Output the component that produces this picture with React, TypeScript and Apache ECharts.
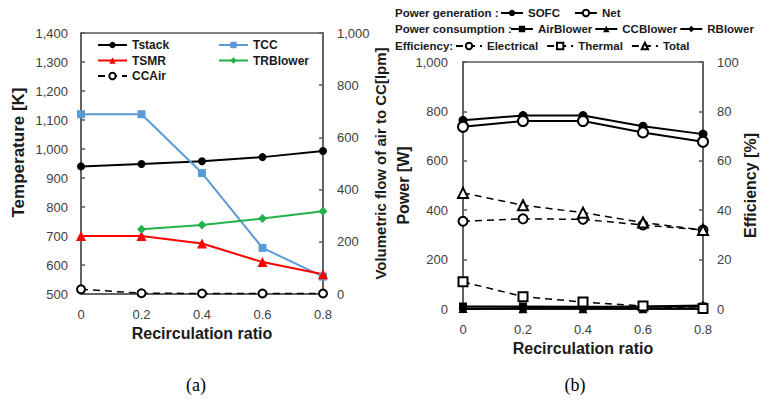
import React, { useEffect, useRef } from "react";
import * as echarts from "echarts";

const ratios = ["0", "0.2", "0.4", "0.6", "0.8"];

// (a) temperatures [K] and CC air flow [lpm]
const tStack = [940, 948, 958, 972, 993];
const tCC = [1120, 1120, 917, 659, 560];
const tSMR = [700, 700, 674, 610, 568];
const tRBlower = [null, 723, 738, 760, 785];
const ccAir = [18, 3, 2, 2, 2];

// (b) power [W] and efficiency [%]
const sofc = [764, 783, 783, 740, 708];
const net = [738, 761, 761, 715, 677];
const airBlower = [10, 10, 9, 9, 10];
const ccBlower = [2, 1, 1, 1, 1];
const rBlower = [0, 4, 7, 10, 14];
const elecEff = [35.5, 36.5, 36.3, 34, 32];
const thermEff = [11, 5, 2.8, 1.2, 0.2];
const totalEff = [47, 42, 39, 35, 32];

const SANS = "'Liberation Sans', Arial, sans-serif";
const AXIS = "#595959";
const TXT = "#1a1a1a";

function fmt(v: number) {
  return v.toLocaleString("en-US");
}

export default function App() {
  const ref = useRef<HTMLDivElement>(null);
  useEffect(() => {
    if (!ref.current) return;
    const chart = echarts.init(ref.current, undefined, { renderer: "svg" });

    const axisLine = { show: true, lineStyle: { color: AXIS, width: 1.5 } };
    const tickIn = { show: true, inside: true, length: 4, lineStyle: { color: AXIS, width: 1.5 } };
    const lbl = (margin: number) => ({
      fontFamily: SANS,
      fontSize: 13,
      color: "#404040",
      margin,
      formatter: (v: number) => fmt(v),
    });
    const nameStyle = { fontFamily: SANS, fontSize: 15, fontWeight: "bold" as const, color: TXT };

    const xAxis = (gi: number, gap: number) => ({
      type: "category" as const,
      gridIndex: gi,
      data: ratios,
      boundaryGap: false,
      axisLine,
      axisTick: { show: false },
      axisLabel: { fontFamily: SANS, fontSize: 13, color: "#404040", margin: 14 },
      name: "Recirculation ratio",
      nameLocation: "middle" as const,
      nameGap: gap,
      nameTextStyle: { ...nameStyle, fontSize: 16 },
      splitLine: { show: false },
    });

    const solid = (color: string) => ({ color, width: 2 });
    const dashed = { color: "#000", width: 1.5, type: [7, 5] as number[] };

    const leftLegendText = { fontFamily: SANS, fontSize: 12, fontWeight: "bold", color: TXT, lineHeight: 12 };
    const rightLegendText = { fontFamily: SANS, fontSize: 11.5, fontWeight: "bold", color: TXT, lineHeight: 14 };
    const prefixFont = `bold 11.5px ${SANS}`;

    const option: any = {
      animation: false,
      backgroundColor: "#fff",
      grid: [
        { left: 81, top: 33, width: 242, height: 261, show: true, borderColor: AXIS, borderWidth: 1.5 },
        { left: 463, top: 62, width: 240, height: 247, show: true, borderColor: AXIS, borderWidth: 1.5 },
      ],
      xAxis: [xAxis(0, 24), xAxis(1, 30)],
      yAxis: [
        {
          type: "value", gridIndex: 0, min: 500, max: 1400, interval: 100,
          axisLine, axisTick: tickIn, axisLabel: lbl(13), splitLine: { show: false },
          name: "Temperature [K]", nameLocation: "middle", nameGap: 54,
          nameTextStyle: { ...nameStyle, fontSize: 17, padding: [0, 0, 0, 22] },
        },
        {
          type: "value", gridIndex: 0, position: "right", min: 0, max: 1000, interval: 200,
          axisLine, axisTick: tickIn, axisLabel: lbl(14), splitLine: { show: false },
          name: "Volumetric flow of air to CC[lpm]", nameLocation: "middle", nameGap: 45,
          nameTextStyle: nameStyle,
        },
        {
          type: "value", gridIndex: 1, min: 0, max: 1000, interval: 200,
          axisLine, axisTick: tickIn, axisLabel: lbl(15), splitLine: { show: false },
          name: "Power [W]", nameLocation: "middle", nameGap: 45,
          nameTextStyle: { ...nameStyle, fontSize: 16 },
        },
        {
          type: "value", gridIndex: 1, position: "right", min: 0, max: 100, interval: 20,
          axisLine, axisTick: tickIn, axisLabel: lbl(14), splitLine: { show: false },
          name: "Efficiency [%]", nameLocation: "middle", nameGap: 39,
          nameTextStyle: { ...nameStyle, fontSize: 16 },
        },
      ],
      legend: [
        {
          left: 97, top: 39, padding: 0, orient: "vertical", itemWidth: 29, itemHeight: 8, itemGap: 3.5,
          data: ["Tstack", "TSMR", "CCAir"], textStyle: leftLegendText,
        },
        {
          left: 218, top: 39, padding: 0, orient: "vertical", itemWidth: 29, itemHeight: 8, itemGap: 3.5,
          data: ["TCC", "TRBlower"], textStyle: leftLegendText,
        },
        {
          left: 500, top: 6, padding: 0, width: 250, itemWidth: 22, itemHeight: 8, itemGap: 14,
          data: ["SOFC", "Net"], textStyle: rightLegendText,
        },
        {
          left: 510, top: 22, padding: 0, width: 250, itemWidth: 22, itemHeight: 8, itemGap: 2,
          data: ["AirBlower", "CCBlower", "RBlower"], textStyle: rightLegendText,
        },
        {
          left: 455, top: 39, padding: 0, width: 300, itemWidth: 26, itemHeight: 8, itemGap: 8,
          data: ["Electrical", "Thermal", "Total"], textStyle: rightLegendText,
        },
      ],
      graphic: [
        { type: "text", x: 395, y: 13, style: { text: "Power generation :", font: prefixFont, fill: TXT, verticalAlign: "middle" } },
        { type: "text", x: 395, y: 29, style: { text: "Power consumption :", font: prefixFont, fill: TXT, verticalAlign: "middle" } },
        { type: "text", x: 395, y: 46, style: { text: "Efficiency:", font: prefixFont, fill: TXT, verticalAlign: "middle" } },
        { type: "text", x: 196, y: 385, style: { text: "(a)", font: "18px 'Liberation Serif', serif", fill: "#000", align: "center", verticalAlign: "middle" } },
        { type: "text", x: 575, y: 385, style: { text: "(b)", font: "18px 'Liberation Serif', serif", fill: "#000", align: "center", verticalAlign: "middle" } },
      ],
      series: [
        { name: "Tstack", type: "line", xAxisIndex: 0, yAxisIndex: 0, data: tStack, symbol: "circle", symbolSize: 8,
          itemStyle: { color: "#000" }, lineStyle: solid("#000") },
        { name: "TCC", type: "line", xAxisIndex: 0, yAxisIndex: 0, data: tCC, symbol: "rect", symbolSize: 8,
          itemStyle: { color: "#5B9BD5" }, lineStyle: solid("#5B9BD5") },
        { name: "TSMR", type: "line", xAxisIndex: 0, yAxisIndex: 0, data: tSMR, symbol: "triangle", symbolSize: 10,
          itemStyle: { color: "#FF0000" }, lineStyle: solid("#FF0000") },
        { name: "TRBlower", type: "line", xAxisIndex: 0, yAxisIndex: 0, data: tRBlower, symbol: "diamond", symbolSize: 9,
          itemStyle: { color: "#22B14C" }, lineStyle: solid("#22B14C") },
        { name: "CCAir", type: "line", xAxisIndex: 0, yAxisIndex: 1, data: ccAir, symbol: "emptyCircle", symbolSize: 8,
          itemStyle: { color: "#000", borderWidth: 1 }, lineStyle: dashed },

        { name: "SOFC", type: "line", xAxisIndex: 1, yAxisIndex: 2, data: sofc, symbol: "circle", symbolSize: 9,
          itemStyle: { color: "#000" }, lineStyle: solid("#000") },
        { name: "Net", type: "line", xAxisIndex: 1, yAxisIndex: 2, data: net, symbol: "emptyCircle", symbolSize: 10,
          itemStyle: { color: "#000", borderWidth: 1.2 }, lineStyle: solid("#000") },
        { name: "AirBlower", type: "line", xAxisIndex: 1, yAxisIndex: 2, data: airBlower, symbol: "rect", symbolSize: 8,
          itemStyle: { color: "#000" }, lineStyle: solid("#000") },
        { name: "CCBlower", type: "line", xAxisIndex: 1, yAxisIndex: 2, data: ccBlower, symbol: "triangle", symbolSize: 9,
          itemStyle: { color: "#000" }, lineStyle: solid("#000") },
        { name: "RBlower", type: "line", xAxisIndex: 1, yAxisIndex: 2, data: rBlower, symbol: "diamond", symbolSize: 9,
          itemStyle: { color: "#000" }, lineStyle: solid("#000") },
        { name: "Electrical", type: "line", xAxisIndex: 1, yAxisIndex: 3, data: elecEff, symbol: "emptyCircle", symbolSize: 9,
          itemStyle: { color: "#000", borderWidth: 1 }, lineStyle: dashed },
        { name: "Thermal", type: "line", xAxisIndex: 1, yAxisIndex: 3, data: thermEff, symbol: "emptyRect", symbolSize: 9,
          itemStyle: { color: "#000", borderWidth: 1 }, lineStyle: dashed },
        { name: "Total", type: "line", xAxisIndex: 1, yAxisIndex: 3, data: totalEff, symbol: "emptyTriangle", symbolSize: 10,
          itemStyle: { color: "#000", borderWidth: 1 }, lineStyle: dashed },
      ],
    };
    chart.setOption(option);
    return () => chart.dispose();
  }, []);
  return <div ref={ref} style={{ width: 761, height: 400, position: "absolute", left: 0, top: 0 }} />;
}
